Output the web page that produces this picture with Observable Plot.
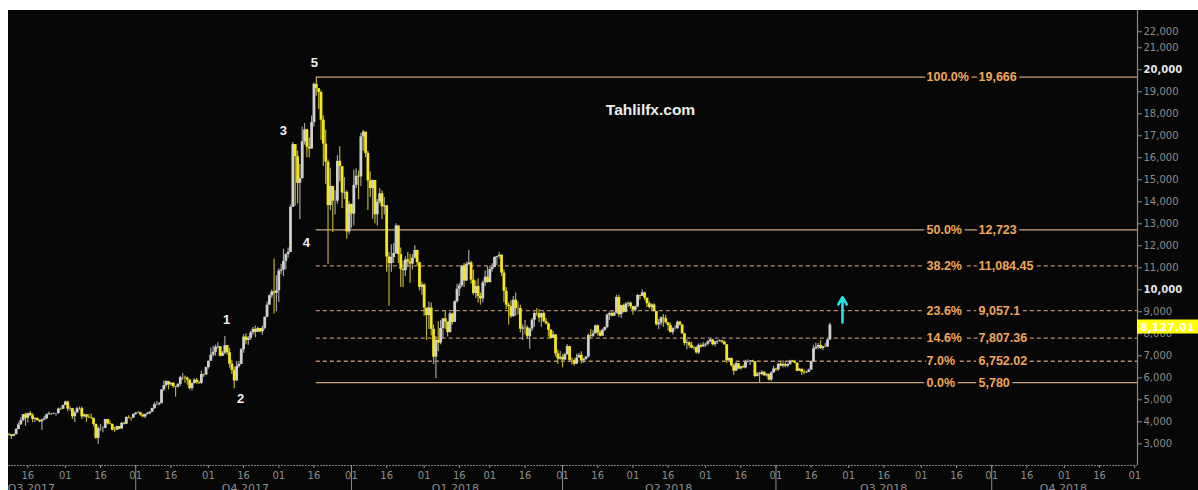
<!DOCTYPE html>
<html><head><meta charset="utf-8">
<script src="https://cdn.jsdelivr.net/npm/d3@7"></script>
<script src="https://cdn.jsdelivr.net/npm/@observablehq/plot@0.6"></script>
<style>
html,body{margin:0;padding:0;background:#fff;}
#chart{position:absolute;left:8px;top:10px;width:1190px;height:480px;overflow:hidden;background:#070707;}
#chart svg{display:block;}
</style></head><body><div id="chart"></div>
<script>
// ---- daily candles (Bitstamp BTC/USD), open = previous close ----
const startDate = "2017-08-06";
const firstOpen = 3250;
const closes = [
// Aug 6-31 2017
3220,3385,3415,3340,3415,3650,3860,4060,4320,4160,4380,4280,4110,4150,4060,4000,4080,4140,4320,4360,4350,4380,4380,4580,4570,4740,
// Sep
4900,4580,4600,4230,4400,4600,4600,4230,4320,4210,4180,4160,3880,3250,3700,3700,3700,4100,3910,3880,3620,3610,3780,3670,3930,3890,4200,4180,4170,4340,
// Oct
4400,4410,4310,4220,4330,4370,4440,4610,4780,4780,4830,5450,5650,5830,5680,5750,5600,5570,5700,6010,6010,5980,5900,5510,5740,5890,5780,5750,6150,6130,6470,
// Nov
6750,7030,7160,7380,7410,6980,7120,7460,7140,6620,6340,5860,6510,6610,7280,7850,7700,7790,8040,8200,8070,8240,8090,8250,8750,9300,9730,9900,9840,9950,
// Dec
10850,10900,11290,11600,11700,13750,16600,16050,14840,15060,16730,17270,16480,16400,17600,19340,19140,18970,17710,16620,15800,13830,14700,14030,14030,15840,15600,14400,14430,12630,13880,
// Jan 2018
13440,14750,15160,15130,16950,17170,16200,14950,14600,14970,13410,13980,14360,13770,13820,11490,11190,11470,11650,12900,11600,10930,10870,11360,11260,11170,11440,11790,11230,10110,10220,
// Feb
9170,8830,9170,8200,6940,7700,7580,8240,8680,8540,8060,8900,8520,9460,10030,10180,11080,10400,11150,11220,10440,9830,10150,9700,9590,10310,10570,10330,
// Mar
10920,11010,11470,11510,11570,10760,9930,9300,9230,8780,9530,9140,9150,8210,8260,8270,7870,8220,8620,8920,8900,8720,8920,8550,8450,8160,7790,7950,7090,6850,6930,
// Apr
6810,7050,7420,6790,6780,6620,6900,7020,6770,6830,6940,7920,7890,8000,8360,8050,7890,8160,8290,8850,8920,8800,8940,9650,8870,9280,8980,9350,9390,9240,
// May
9070,9220,9740,9700,9860,9620,9370,9190,9310,9010,8410,8480,8720,8680,8500,8370,8060,8230,8230,8530,8400,8000,7560,7590,7470,7350,7370,7130,7470,7400,7490,
// Jun
7530,7640,7720,7500,7630,7650,7680,7620,7500,6770,6880,6550,6300,6640,6400,6500,6450,6710,6740,6760,6720,6060,6180,6150,6250,6090,6160,5900,6220,6400,
// Jul 1-24
6360,6620,6530,6600,6530,6600,6760,6710,6660,6300,6390,6250,6220,6250,6350,6740,7320,7380,7470,7330,7410,7400,7720,8400
];
const highs = [
3290,3400,3480,3420,3440,3700,3960,4180,4330,4400,4390,4480,4370,4180,4180,4090,4130,4250,4350,4450,4380,4400,4390,4630,4630,4760,
4930,4940,4690,4610,4490,4650,4680,4670,4360,4310,4330,4360,4160,3900,3780,3880,3770,4120,4100,4050,3900,3750,3800,3790,3970,3990,4220,4280,4200,4360,
4410,4470,4440,4360,4360,4430,4460,4620,4870,4920,4880,5460,5850,5850,5830,5780,5770,5600,5730,6070,6190,6080,6040,5900,5760,5960,5970,5850,6300,6170,6480,
6760,7360,7440,7490,7590,7420,7200,7880,7470,7330,6800,6480,6740,6740,7330,7960,8000,7880,8100,8290,8350,8300,8250,8350,8760,9450,9760,9990,11400,10640,
10950,11150,11850,11640,11900,13850,16700,16600,16300,15700,17400,17550,17300,16900,17900,19400,19666,19150,19050,17900,17250,15900,15500,14450,14500,16100,16500,15600,15100,14500,14000,
13900,15450,15500,15400,17100,17250,17100,16300,15350,14990,14950,14100,14600,14500,14200,13800,11700,12050,12100,13000,12900,11900,11300,11500,11700,11600,11600,12000,11800,11250,10350,
10280,9100,9450,9400,8400,7880,8550,8600,8700,9050,8500,8980,8930,9500,10250,10300,11100,11200,11250,11790,11300,10900,10400,10500,9850,10400,10850,11050,
11080,11180,11500,11520,11690,11600,10900,10100,9400,9500,9700,9850,9450,9300,8400,8600,8350,8250,8700,9000,9150,9100,8950,9000,8700,8500,8200,8100,7950,7250,7200,
7050,7120,7500,7430,6900,6850,7070,7100,7180,6890,6970,8000,8200,8150,8400,8400,8150,8220,8300,8900,9000,9000,8990,9750,9750,9300,9350,9420,9450,9450,
9250,9260,9800,9750,9990,9890,9630,9460,9360,9370,9010,8650,8770,8880,8840,8500,8480,8270,8390,8580,8560,8410,8020,7730,7650,7620,7420,7410,7540,7550,7600,
7570,7700,7760,7750,7660,7700,7730,7700,7660,7510,6900,6900,6620,6700,6660,6530,6580,6800,6820,6790,6800,6740,6250,6250,6330,6280,6170,6170,6280,6520,
6430,6640,6680,6780,6700,6640,6800,6790,6800,6680,6420,6390,6350,6300,6400,6760,7480,7580,7560,7690,7440,7560,7750,8480
];
const lows = [
3200,3210,3360,3200,3320,3410,3640,3840,4000,3800,3950,4250,3960,3970,4020,3950,3600,4060,4110,4300,4290,4330,4250,4330,4510,4560,
4740,4450,4480,4100,3970,4400,4520,4100,4170,3980,4150,4100,3770,3200,2970,3570,3500,3690,3860,3850,3580,3520,3600,3640,3670,3860,3890,4130,4030,4160,
4290,4370,4250,4180,4150,4310,4320,4420,4560,4730,4730,4820,5380,5570,5450,5620,5530,5120,5540,5620,5880,5750,5660,5450,5410,5710,5710,5690,5700,6020,6100,
6390,6750,6950,6980,7310,6950,6960,7050,7030,6440,6150,5500,5840,6430,6610,7120,7500,7480,7690,7930,7820,8060,8040,7930,8170,8730,9300,9620,8900,9000,
9420,10700,10600,10900,11450,11700,13750,13800,13900,13200,15030,16580,16000,16000,16400,17400,18800,18200,16800,15600,14800,11160,13600,12600,13400,13900,14900,13700,14100,12300,12500,
12800,12900,14600,14100,14700,16300,16000,13600,14200,13200,13000,12900,13900,13200,13400,10800,9250,10800,11200,11600,11200,10100,10100,10600,11000,10300,10900,11400,11100,9950,9750,
8800,7700,8200,7900,6600,5960,7200,7500,7750,8200,7850,8030,8400,8530,9390,9700,10100,10100,10380,11100,10250,9750,9600,9400,9300,9400,10150,10300,
10300,10800,11000,11100,11400,10600,9420,9100,8400,8700,8750,8800,8850,8050,7700,7950,7760,7300,8100,8300,8800,8500,8300,8500,8400,7850,7750,7800,6950,6600,6800,
6450,6770,7020,6720,6580,6530,6610,6900,6630,6650,6800,6900,7800,7830,8000,7900,7860,7900,8100,8230,8600,8780,8800,8900,8750,8700,8950,8950,9200,9120,
8850,9000,9180,9540,9700,9500,9200,9130,9000,9000,8350,8200,8350,8300,8450,8130,8030,7950,8180,8200,8350,7970,7450,7280,7350,7320,7250,7080,7060,7340,7400,
7380,7460,7610,7460,7400,7520,7620,7560,7480,6650,6700,6480,6120,6300,6380,6350,6440,6400,6680,6560,6700,6000,6040,5780,6090,6070,6030,5860,5830,6200,
6290,6290,6500,6450,6460,6460,6570,6690,6640,6280,6300,6100,6140,6190,6240,6340,6680,7260,7280,7290,7230,7380,7380,7700
];

// ---- Fibonacci retracement levels ----
const fibPct = ["100.0%","50.0%","38.2%","23.6%","14.6%","7.0%","0.0%"];
const fibValue = [19666,12723,11084.45,9057.1,7807.36,6752.02,5780];
const fibLabel = ["19,666","12,723","11,084.45","9,057.1","7,807.36","6,752.02","5,780"];
const fibSolid = [true,true,false,false,false,false,true];
const fibStart = "2017-12-17T00:00Z";

// ---- wave annotations ----
const waveText = ["1","2","3","4","5"];
const waveDate = ["2017-11-08T18:00Z","2017-11-14T18:00Z","2017-12-03T00:00Z","2017-12-12T18:00Z","2017-12-16T05:00Z"];
const waveValue = [8650,5060,17240,12150,20330];

// ---- arrow, last price, watermark ----
const arrowDate = "2018-07-29T09:00Z";
const arrowFrom = 8514, arrowTo = 9664;
const lastPrice = 8127.01;
const lastPriceText = "8,127.01";
const watermark = "Tahlilfx.com";

// ---- axes ----
const yTicks = [3000,4000,5000,6000,7000,8000,9000,10000,11000,12000,13000,14000,15000,16000,17000,18000,19000,20000,21000,22000];
const yBold = [10000,20000];
const quarterLabels = ["Q3 2017","Q4 2017","Q1 2018","Q2 2018","Q3 2018","Q4 2018"];
const quarterLabelDates = ["2017-08-17T12:00Z","2017-11-16T18:00Z","2018-02-14T08:00Z","2018-05-16T05:00Z","2018-08-15T22:00Z","2018-10-31T14:00Z"];
const quarterStarts = ["2017-10-01T00:00Z","2018-01-01T00:00Z","2018-04-01T00:00Z","2018-07-01T00:00Z","2018-10-01T00:00Z"];
const xDomain = [new Date("2017-08-07T18:00Z"), new Date("2018-12-02T04:00Z")];
const yDomain = [2014, 22695];

// ---- build tables ----
const t0 = new Date(startDate + "T00:00Z");
const candles = closes.map((c, i) => {
  const open = i ? closes[i - 1] : firstOpen;
  return {date: d3.utcDay.offset(t0, i), open, close: c, high: highs[i], low: lows[i], up: c >= open};
});
const fibs = fibValue.map((v, i) => ({value: v, pct: fibPct[i], label: fibLabel[i], solid: fibSolid[i]}));
const waves = waveText.map((t, i) => ({text: t, date: new Date(waveDate[i]), value: waveValue[i]}));
const fibStartDate = new Date(fibStart);
const dayTicks = d3.utcMonths(new Date("2017-08-01T00:00Z"), xDomain[1])
  .flatMap(m => [m, d3.utcDay.offset(m, 15)])
  .filter(d => d >= xDomain[0] && d <= xDomain[1]);
const qLabelDates = quarterLabelDates.map(d => new Date(d));
const qStarts = quarterStarts.map(d => new Date(d));

const GRAY = "#8c8c8c";
const YELLOW = "#f4e61a";
const LIGHT = "#cfcfcf";
const SOLID = "#c9a27e";
const DASH = "#b98a72";
const TXT = "#f0a65c";
const BG = "#070707";
const fibFont = {fontSize: 12.5, fontWeight: "bold", fontFamily: "Liberation Sans, Arial, sans-serif",
  fill: TXT, stroke: BG, strokeWidth: 6, paintOrder: "stroke", textAnchor: "start", frameAnchor: "right"};

const chart = Plot.plot({
  width: 1190, height: 480,
  marginLeft: 0, marginRight: 61, marginTop: 0, marginBottom: 25,
  style: {background: "transparent", color: GRAY, fontFamily: "DejaVu Sans, sans-serif", fontSize: "10px", overflow: "visible"},
  x: {type: "utc", domain: xDomain, axis: null},
  y: {domain: yDomain, axis: null},
  color: {type: "identity"},
  marks: [
    // frame lines
    Plot.ruleX([xDomain[1]], {stroke: "#8a8a8a", strokeWidth: 1.2}),
    Plot.ruleY([yDomain[0]], {stroke: "#7a7a7a", strokeWidth: 1.2, strokeDasharray: "2,1"}),
    // fib levels
    Plot.ruleY(fibs.filter(d => d.solid), {y: "value", x1: () => fibStartDate, x2: () => xDomain[1], stroke: SOLID, strokeWidth: 1.4}),
    Plot.ruleY(fibs.filter(d => !d.solid), {y: "value", x1: () => fibStartDate, x2: () => xDomain[1], stroke: DASH, strokeWidth: 1.3, strokeDasharray: "4,3"}),
    // candles
    Plot.ruleX(candles, {x: "date", y1: "low", y2: "high", stroke: d => d.up ? "#a0a0a0" : "#bdb02a", strokeWidth: 1.2}),
    Plot.ruleX(candles, {x: "date", y1: "open", y2: "close", stroke: d => d.up ? LIGHT : YELLOW, strokeWidth: 2.8}),
    // fib labels
    Plot.text(fibs, {y: "value", text: "pct", dx: -211, ...fibFont}),
    Plot.text(fibs, {y: "value", text: "label", dx: -159, ...fibFont}),
    // wave labels
    Plot.text(waves, {x: "date", y: "value", text: "text", fill: "#f2f2f2", fontSize: 13, fontWeight: "bold", fontFamily: "Liberation Sans, Arial, sans-serif"}),
    // watermark
    Plot.text([watermark], {frameAnchor: "top-left", dx: 642, dy: 100, textAnchor: "middle", lineAnchor: "middle", text: d => d, fill: "#ececec", fontSize: 15.5, fontWeight: "bold", fontFamily: "Liberation Sans, Arial, sans-serif"}),
    // arrow
    Plot.arrow([{x: new Date(arrowDate), y1: arrowFrom, y2: arrowTo}], {x1: "x", x2: "x", y1: "y1", y2: "y2", stroke: "#22e3e3", strokeWidth: 2.6, headLength: 9}),
    // y axis (right)
    Plot.axisY({ticks: yTicks.filter(t => !yBold.includes(t) && t !== 22000), anchor: "right", tickSize: 4, tickPadding: 2, tickFormat: d3.format(","), stroke: GRAY, fill: GRAY, fontSize: 10}),
    Plot.axisY({ticks: yBold, anchor: "right", tickSize: 4, tickPadding: 2, tickFormat: d3.format(","), stroke: GRAY, fill: "#e6e6e6", fontSize: 10, fontWeight: "bold"}),
    Plot.axisY({ticks: [22000], anchor: "right", tickSize: 4, tickPadding: 2, tickFormat: d3.format(","), stroke: GRAY, fill: GRAY, fontSize: 10, dy: 6}),
    // x axis (bottom)
    Plot.axisX({ticks: dayTicks, anchor: "bottom", tickSize: 3, tickPadding: 3, tickFormat: d3.utcFormat("%d"), stroke: GRAY, fill: GRAY, fontSize: 10}),
    Plot.axisX({ticks: qStarts, anchor: "bottom", tickSize: 25, tickFormat: () => "", stroke: GRAY}),
    Plot.axisX({ticks: qLabelDates, anchor: "bottom", tickSize: 0, tickPadding: 19, tickFormat: d => quarterLabels[qLabelDates.findIndex(q => +q === +d)], fill: GRAY, fontSize: 11})
  ]
});

// last-price tag on the right axis, positioned with Plot's own scales
const ys = chart.scale("y"), xs = chart.scale("x");
const yv = ys.apply(lastPrice);
const x0 = xs.apply(xDomain[1]);
const tag = d3.select(chart).append("g");
tag.append("rect").attr("x", x0).attr("y", yv - 11).attr("width", 1190 - x0).attr("height", 14).attr("fill", "#ffff00");
tag.append("text").attr("x", x0 + 3).attr("y", yv).attr("text-anchor", "start").attr("font-size", 11).attr("font-weight", "bold")
  .attr("font-family", "DejaVu Sans, sans-serif").attr("fill", "#ffffff").text(lastPriceText);

document.getElementById("chart").appendChild(chart);
</script>
</body></html>
